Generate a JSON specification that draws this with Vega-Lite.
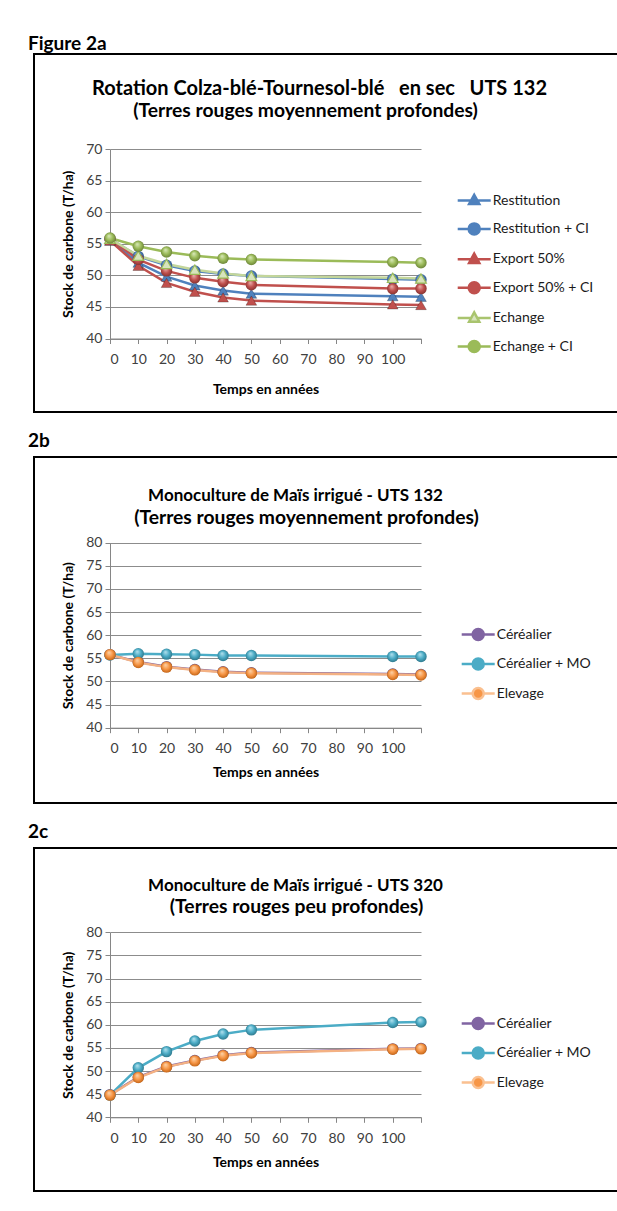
{
  "$schema": "https://vega.github.io/schema/vega-lite/v6.json",
  "background": "white",
  "padding": {"left": 27, "top": 34, "right": -12, "bottom": 8},
  "spacing": 18,
  "config": {
    "font": "Lato",
    "view": {"stroke": "#000", "strokeWidth": 2},
    "axis": {"labelFont": "Lato", "labelFontSize": 14, "labelColor": "#404040", "titleFont": "Lato", "titleFontWeight": "bold", "titleFontSize": 14, "titleColor": "#000", "domainColor": "#868686", "tickColor": "#868686", "gridColor": "#8c8c8c", "gridWidth": 1, "domainWidth": 1, "tickSize": 5},
    "title": {"font": "Lato", "fontSize": 19, "fontWeight": "bold", "anchor": "start", "color": "#000", "dx": -6},
    "legend": {"labelFont": "Lato", "labelFontSize": 14, "labelColor": "#1a1a1a"}
  },
  "resolve": {
    "scale": {"color": "independent", "fill": "independent", "stroke": "independent", "shape": "independent"},
    "legend": {"color": "independent", "fill": "independent", "stroke": "independent", "shape": "independent"}
  },
  "datasets": {
    "p2a": [
      {"t": 0, "stock": 55.5, "serie": "Restitution"},
      {"t": 10, "stock": 52.0, "serie": "Restitution"},
      {"t": 20, "stock": 49.8, "serie": "Restitution"},
      {"t": 30, "stock": 48.4, "serie": "Restitution"},
      {"t": 40, "stock": 47.6, "serie": "Restitution"},
      {"t": 50, "stock": 47.1, "serie": "Restitution"},
      {"t": 100, "stock": 46.7, "serie": "Restitution"},
      {"t": 110, "stock": 46.6, "serie": "Restitution"},
      {"t": 0, "stock": 55.8, "serie": "Restitution + CI"},
      {"t": 10, "stock": 53.0, "serie": "Restitution + CI"},
      {"t": 20, "stock": 51.6, "serie": "Restitution + CI"},
      {"t": 30, "stock": 50.7, "serie": "Restitution + CI"},
      {"t": 40, "stock": 50.2, "serie": "Restitution + CI"},
      {"t": 50, "stock": 49.9, "serie": "Restitution + CI"},
      {"t": 100, "stock": 49.4, "serie": "Restitution + CI"},
      {"t": 110, "stock": 49.3, "serie": "Restitution + CI"},
      {"t": 0, "stock": 55.5, "serie": "Export 50%"},
      {"t": 10, "stock": 51.5, "serie": "Export 50%"},
      {"t": 20, "stock": 48.8, "serie": "Export 50%"},
      {"t": 30, "stock": 47.4, "serie": "Export 50%"},
      {"t": 40, "stock": 46.5, "serie": "Export 50%"},
      {"t": 50, "stock": 46.0, "serie": "Export 50%"},
      {"t": 100, "stock": 45.4, "serie": "Export 50%"},
      {"t": 110, "stock": 45.3, "serie": "Export 50%"},
      {"t": 0, "stock": 55.8, "serie": "Export 50% + CI"},
      {"t": 10, "stock": 52.5, "serie": "Export 50% + CI"},
      {"t": 20, "stock": 50.7, "serie": "Export 50% + CI"},
      {"t": 30, "stock": 49.6, "serie": "Export 50% + CI"},
      {"t": 40, "stock": 49.0, "serie": "Export 50% + CI"},
      {"t": 50, "stock": 48.5, "serie": "Export 50% + CI"},
      {"t": 100, "stock": 47.9, "serie": "Export 50% + CI"},
      {"t": 110, "stock": 47.9, "serie": "Export 50% + CI"},
      {"t": 0, "stock": 55.8, "serie": "Echange"},
      {"t": 10, "stock": 53.1, "serie": "Echange"},
      {"t": 20, "stock": 51.8, "serie": "Echange"},
      {"t": 30, "stock": 50.9, "serie": "Echange"},
      {"t": 40, "stock": 50.3, "serie": "Echange"},
      {"t": 50, "stock": 49.9, "serie": "Echange"},
      {"t": 100, "stock": 49.6, "serie": "Echange"},
      {"t": 110, "stock": 49.5, "serie": "Echange"},
      {"t": 0, "stock": 55.9, "serie": "Echange + CI"},
      {"t": 10, "stock": 54.6, "serie": "Echange + CI"},
      {"t": 20, "stock": 53.7, "serie": "Echange + CI"},
      {"t": 30, "stock": 53.1, "serie": "Echange + CI"},
      {"t": 40, "stock": 52.7, "serie": "Echange + CI"},
      {"t": 50, "stock": 52.5, "serie": "Echange + CI"},
      {"t": 100, "stock": 52.1, "serie": "Echange + CI"},
      {"t": 110, "stock": 52.0, "serie": "Echange + CI"}
    ],
    "p2b": [
      {"t": 0, "stock": 55.8, "serie": "Céréalier"},
      {"t": 10, "stock": 54.2, "serie": "Céréalier"},
      {"t": 20, "stock": 53.2, "serie": "Céréalier"},
      {"t": 30, "stock": 52.6, "serie": "Céréalier"},
      {"t": 40, "stock": 52.1, "serie": "Céréalier"},
      {"t": 50, "stock": 51.9, "serie": "Céréalier"},
      {"t": 100, "stock": 51.6, "serie": "Céréalier"},
      {"t": 110, "stock": 51.5, "serie": "Céréalier"},
      {"t": 0, "stock": 55.7, "serie": "Céréalier + MO"},
      {"t": 10, "stock": 56.0, "serie": "Céréalier + MO"},
      {"t": 20, "stock": 55.9, "serie": "Céréalier + MO"},
      {"t": 30, "stock": 55.8, "serie": "Céréalier + MO"},
      {"t": 40, "stock": 55.6, "serie": "Céréalier + MO"},
      {"t": 50, "stock": 55.6, "serie": "Céréalier + MO"},
      {"t": 100, "stock": 55.4, "serie": "Céréalier + MO"},
      {"t": 110, "stock": 55.4, "serie": "Céréalier + MO"},
      {"t": 0, "stock": 55.8, "serie": "Elevage"},
      {"t": 10, "stock": 54.1, "serie": "Elevage"},
      {"t": 20, "stock": 53.1, "serie": "Elevage"},
      {"t": 30, "stock": 52.5, "serie": "Elevage"},
      {"t": 40, "stock": 52.0, "serie": "Elevage"},
      {"t": 50, "stock": 51.8, "serie": "Elevage"},
      {"t": 100, "stock": 51.5, "serie": "Elevage"},
      {"t": 110, "stock": 51.4, "serie": "Elevage"}
    ],
    "p2c": [
      {"t": 0, "stock": 44.9, "serie": "Céréalier"},
      {"t": 10, "stock": 48.7, "serie": "Céréalier"},
      {"t": 20, "stock": 51.0, "serie": "Céréalier"},
      {"t": 30, "stock": 52.3, "serie": "Céréalier"},
      {"t": 40, "stock": 53.4, "serie": "Céréalier"},
      {"t": 50, "stock": 54.0, "serie": "Céréalier"},
      {"t": 100, "stock": 54.8, "serie": "Céréalier"},
      {"t": 110, "stock": 54.9, "serie": "Céréalier"},
      {"t": 0, "stock": 44.8, "serie": "Céréalier + MO"},
      {"t": 10, "stock": 50.7, "serie": "Céréalier + MO"},
      {"t": 20, "stock": 54.2, "serie": "Céréalier + MO"},
      {"t": 30, "stock": 56.5, "serie": "Céréalier + MO"},
      {"t": 40, "stock": 58.0, "serie": "Céréalier + MO"},
      {"t": 50, "stock": 58.9, "serie": "Céréalier + MO"},
      {"t": 100, "stock": 60.5, "serie": "Céréalier + MO"},
      {"t": 110, "stock": 60.6, "serie": "Céréalier + MO"},
      {"t": 0, "stock": 44.8, "serie": "Elevage"},
      {"t": 10, "stock": 48.6, "serie": "Elevage"},
      {"t": 20, "stock": 50.9, "serie": "Elevage"},
      {"t": 30, "stock": 52.2, "serie": "Elevage"},
      {"t": 40, "stock": 53.3, "serie": "Elevage"},
      {"t": 50, "stock": 53.9, "serie": "Elevage"},
      {"t": 100, "stock": 54.7, "serie": "Elevage"},
      {"t": 110, "stock": 54.8, "serie": "Elevage"}
    ]
  },
  "vconcat": [
    {
      "width": 595,
      "height": 358,
      "title": {"text": "Figure 2a", "offset": 0},
      "data": {"name": "p2a"},
      "encoding": {
        "x": {"field": "t", "type": "quantitative", "scale": {"domain": [0, 110], "range": [76, 387], "nice": false, "zero": false},
          "axis": {"orient": "bottom", "offset": -73.5, "values": [0, 10, 20, 30, 40, 50, 60, 70, 80, 90, 100, 110], "labelExpr": "datum.value > 100 ? '' : datum.label", "grid": false, "title": "Temps en années", "labelPadding": 9, "titlePadding": 16}},
        "y": {"field": "stock", "type": "quantitative", "scale": {"domain": [40, 70], "range": [284.5, 95], "nice": false, "zero": false},
          "axis": {"orient": "left", "offset": -76, "values": [40, 45, 50, 55, 60, 65, 70], "grid": true, "title": "Stock de carbone (T/ha)", "labelPadding": 3, "titlePadding": 10}}
      },
      "layer": [
        {
          "mark": {"type": "line", "strokeWidth": 2.5},
          "encoding": {
            "color": {"field": "serie", "type": "nominal", "legend": null,
              "scale": {"domain": ["Restitution", "Restitution + CI", "Export 50%", "Export 50% + CI", "Echange", "Echange + CI"], "range": ["#4F81BD", "#4F81BD", "#C0504D", "#C0504D", "#C3D69B", "#9BBB59"]}}
          }
        },
        {
          "transform": [{"filter": {"field": "serie", "oneOf": ["Restitution", "Export 50%"]}}],
          "mark": {"type": "point", "shape": "triangle-up", "filled": true, "opacity": 1, "stroke": "rgba(0,0,0,0.3)", "strokeWidth": 0.8, "size": 115},
          "encoding": {
            "x": {"field": "t", "type": "quantitative", "scale": {"domain": [0, 110], "range": [76, 387], "nice": false, "zero": false},
              "axis": {"orient": "top", "labels": false, "ticks": false, "domain": false, "grid": false,
                "title": "Rotation Colza-blé-Tournesol-blé\u00a0\u00a0\u00a0en sec\u00a0\u00a0\u00a0UTS 132",
                "titleX": 285, "titleY": 40, "titleAlign": "center", "titleBaseline": "alphabetic", "titleFontSize": 20, "titleAngle": 0}},
            "y": {"field": "stock", "type": "quantitative", "scale": {"domain": [40, 70], "range": [284.5, 95], "nice": false, "zero": false},
              "axis": {"orient": "right", "offset": -595, "labels": false, "ticks": false, "domain": false, "grid": false,
                "title": "(Terres rouges moyennement profondes)",
                "titleX": 271, "titleY": 62, "titleAlign": "center", "titleBaseline": "alphabetic", "titleFontSize": 19.3, "titleAngle": 0}},
            "color": {"field": "serie", "type": "nominal", "legend": null,
              "scale": {"domain": ["Restitution", "Export 50%"], "range": ["#4F81BD", "#C0504D"]}}
          }
        },
        {
          "transform": [{"filter": {"field": "serie", "equal": "Restitution + CI"}}],
          "mark": {"type": "point", "shape": "circle", "filled": true, "opacity": 1, "size": 130,
            "fill": {"gradient": "radial", "x1": 0.4, "y1": 0.3, "r1": 0, "x2": 0.5, "y2": 0.5, "r2": 0.6, "stops": [{"offset": 0, "color": "#BBD0EA"}, {"offset": 0.5, "color": "#4F81BD"}, {"offset": 1, "color": "#2C4D75"}]}},
          "encoding": {
            "x": {"field": "t", "type": "quantitative", "scale": {"domain": [0, 110], "range": [76, 387], "nice": false, "zero": false}, "axis": null},
            "y": {"field": "stock", "type": "quantitative", "scale": {"domain": [40, 70], "range": [284.5, 95], "nice": false, "zero": false}, "axis": null}
          }
        },
        {
          "transform": [{"filter": {"field": "serie", "equal": "Export 50% + CI"}}],
          "mark": {"type": "point", "shape": "circle", "filled": true, "opacity": 1, "size": 130,
            "fill": {"gradient": "radial", "x1": 0.4, "y1": 0.3, "r1": 0, "x2": 0.5, "y2": 0.5, "r2": 0.6, "stops": [{"offset": 0, "color": "#EBB3B1"}, {"offset": 0.5, "color": "#C0504D"}, {"offset": 1, "color": "#772C2A"}]}},
          "encoding": {
            "x": {"field": "t", "type": "quantitative", "scale": {"domain": [0, 110], "range": [76, 387], "nice": false, "zero": false}, "axis": null},
            "y": {"field": "stock", "type": "quantitative", "scale": {"domain": [40, 70], "range": [284.5, 95], "nice": false, "zero": false}, "axis": null}
          }
        },
        {
          "transform": [{"filter": {"field": "serie", "equal": "Echange"}}],
          "mark": {"type": "point", "shape": "triangle-up", "filled": true, "opacity": 1, "fill": "#D7E4BD", "stroke": "#9BBB59", "strokeWidth": 1.2, "size": 115},
          "encoding": {
            "x": {"field": "t", "type": "quantitative", "scale": {"domain": [0, 110], "range": [76, 387], "nice": false, "zero": false}, "axis": null},
            "y": {"field": "stock", "type": "quantitative", "scale": {"domain": [40, 70], "range": [284.5, 95], "nice": false, "zero": false}, "axis": null}
          }
        },
        {
          "transform": [{"filter": {"field": "serie", "equal": "Echange + CI"}}],
          "mark": {"type": "point", "shape": "circle", "filled": true, "opacity": 1, "size": 130,
            "fill": {"gradient": "radial", "x1": 0.4, "y1": 0.3, "r1": 0, "x2": 0.5, "y2": 0.5, "r2": 0.6, "stops": [{"offset": 0, "color": "#DCEBBE"}, {"offset": 0.5, "color": "#9BBB59"}, {"offset": 1, "color": "#5F7530"}]}},
          "encoding": {
            "x": {"field": "t", "type": "quantitative", "scale": {"domain": [0, 110], "range": [76, 387], "nice": false, "zero": false}, "axis": null},
            "y": {"field": "stock", "type": "quantitative", "scale": {"domain": [40, 70], "range": [284.5, 95], "nice": false, "zero": false}, "axis": null}
          }
        },
        {
          "mark": {"type": "point", "size": 0, "strokeWidth": 2.5},
          "encoding": {
            "x": {"field": "t", "type": "quantitative", "scale": {"domain": [0, 110], "range": [76, 387], "nice": false, "zero": false}, "axis": null},
            "y": {"field": "stock", "type": "quantitative", "scale": {"domain": [40, 70], "range": [284.5, 95], "nice": false, "zero": false}, "axis": null},
            "fill": {"field": "serie", "type": "nominal",
              "scale": {"domain": ["Restitution", "Restitution + CI", "Export 50%", "Export 50% + CI", "Echange", "Echange + CI"], "range": ["#4F81BD", "#4F81BD", "#C0504D", "#C0504D", "#D7E4BD", "#9BBB59"]},
              "legend": {"orient": "none", "legendX": 432.7, "legendY": 139, "title": null, "symbolSize": 144, "labelOffset": 11, "rowPadding": 7.4, "padding": 0, "symbolStrokeWidth": 2.5, "symbolOpacity": 1}},
            "stroke": {"field": "serie", "type": "nominal",
              "scale": {"domain": ["Restitution", "Restitution + CI", "Export 50%", "Export 50% + CI", "Echange", "Echange + CI"], "range": ["#4F81BD", "#4F81BD", "#C0504D", "#C0504D", "#A9C46E", "#9BBB59"]},
              "legend": {"orient": "none", "legendX": 432.7, "legendY": 139, "title": null, "symbolSize": 144, "labelOffset": 11, "rowPadding": 7.4, "padding": 0, "symbolStrokeWidth": 2.5, "symbolOpacity": 1}},
            "shape": {"field": "serie", "type": "nominal",
              "scale": {"domain": ["Restitution", "Restitution + CI", "Export 50%", "Export 50% + CI", "Echange", "Echange + CI"],
                "range": ["M-2.75,0H-0.55M0.55,0H2.75M0,-0.95L0.85,0.6L-0.85,0.6Z", "M-2.75,0H-0.92M0.92,0H2.75M-0.92,0A0.92,0.92 0 1,0 0.92,0A0.92,0.92 0 1,0 -0.92,0Z", "M-2.75,0H-0.55M0.55,0H2.75M0,-0.95L0.85,0.6L-0.85,0.6Z", "M-2.75,0H-0.92M0.92,0H2.75M-0.92,0A0.92,0.92 0 1,0 0.92,0A0.92,0.92 0 1,0 -0.92,0Z", "M-2.75,0H-0.55M0.55,0H2.75M0,-0.95L0.85,0.6L-0.85,0.6Z", "M-2.75,0H-0.92M0.92,0H2.75M-0.92,0A0.92,0.92 0 1,0 0.92,0A0.92,0.92 0 1,0 -0.92,0Z"]},
              "legend": {"orient": "none", "legendX": 432.7, "legendY": 139, "title": null, "symbolSize": 144, "labelOffset": 11, "rowPadding": 7.4, "padding": 0, "symbolStrokeWidth": 2.5, "symbolOpacity": 1}}
          }
        }
      ],
      "resolve": {"scale": {"color": "independent"}, "axis": {"x": "independent", "y": "independent"}}
    },
    {
      "width": 595,
      "height": 346,
      "title": {"text": "2b", "offset": 6},
      "data": {"name": "p2b"},
      "encoding": {
        "x": {"field": "t", "type": "quantitative", "scale": {"domain": [0, 110], "range": [76, 387], "nice": false, "zero": false},
          "axis": {"orient": "bottom", "offset": -75.3, "values": [0, 10, 20, 30, 40, 50, 60, 70, 80, 90, 100, 110], "labelExpr": "datum.value > 100 ? '' : datum.label", "grid": false, "title": "Temps en années", "labelPadding": 9, "titlePadding": 10}},
        "y": {"field": "stock", "type": "quantitative", "scale": {"domain": [40, 80], "range": [270.7, 85.7], "nice": false, "zero": false},
          "axis": {"orient": "left", "offset": -76, "values": [40, 45, 50, 55, 60, 65, 70, 75, 80], "grid": true, "title": "Stock de carbone (T/ha)", "labelPadding": 3, "titlePadding": 10}}
      },
      "layer": [
        {
          "mark": {"type": "line", "strokeWidth": 2.5},
          "encoding": {
            "color": {"field": "serie", "type": "nominal", "legend": null,
              "scale": {"domain": ["Céréalier", "Céréalier + MO", "Elevage"], "range": ["#8064A2", "#4BACC6", "#F4B183"]}}
          }
        },
        {
          "transform": [{"filter": {"field": "serie", "equal": "Céréalier"}}],
          "mark": {"type": "point", "shape": "circle", "filled": true, "opacity": 1, "size": 130,
            "fill": {"gradient": "radial", "x1": 0.4, "y1": 0.3, "r1": 0, "x2": 0.5, "y2": 0.5, "r2": 0.6, "stops": [{"offset": 0, "color": "#CDC0DF"}, {"offset": 0.5, "color": "#8064A2"}, {"offset": 1, "color": "#4D3B62"}]}},
          "encoding": {
            "x": {"field": "t", "type": "quantitative", "scale": {"domain": [0, 110], "range": [76, 387], "nice": false, "zero": false},
              "axis": {"orient": "top", "labels": false, "ticks": false, "domain": false, "grid": false,
                "title": "Monoculture de Maïs irrigué - UTS 132",
                "titleX": 261, "titleY": 43, "titleAlign": "center", "titleBaseline": "alphabetic", "titleFontSize": 17, "titleAngle": 0}},
            "y": {"field": "stock", "type": "quantitative", "scale": {"domain": [40, 80], "range": [270.7, 85.7], "nice": false, "zero": false},
              "axis": {"orient": "right", "offset": -595, "labels": false, "ticks": false, "domain": false, "grid": false,
                "title": "(Terres rouges moyennement profondes)",
                "titleX": 272, "titleY": 66.5, "titleAlign": "center", "titleBaseline": "alphabetic", "titleFontSize": 19.3, "titleAngle": 0}}
          }
        },
        {
          "transform": [{"filter": {"field": "serie", "equal": "Céréalier + MO"}}],
          "mark": {"type": "point", "shape": "circle", "filled": true, "opacity": 1, "size": 130,
            "fill": {"gradient": "radial", "x1": 0.4, "y1": 0.3, "r1": 0, "x2": 0.5, "y2": 0.5, "r2": 0.6, "stops": [{"offset": 0, "color": "#B7E3EF"}, {"offset": 0.5, "color": "#4BACC6"}, {"offset": 1, "color": "#276A7C"}]}},
          "encoding": {
            "x": {"field": "t", "type": "quantitative", "scale": {"domain": [0, 110], "range": [76, 387], "nice": false, "zero": false}, "axis": null},
            "y": {"field": "stock", "type": "quantitative", "scale": {"domain": [40, 80], "range": [270.7, 85.7], "nice": false, "zero": false}, "axis": null}
          }
        },
        {
          "transform": [{"filter": {"field": "serie", "equal": "Elevage"}}],
          "mark": {"type": "point", "shape": "circle", "filled": true, "opacity": 1, "size": 130,
            "fill": {"gradient": "radial", "x1": 0.4, "y1": 0.3, "r1": 0, "x2": 0.5, "y2": 0.5, "r2": 0.6, "stops": [{"offset": 0, "color": "#FCD5AD"}, {"offset": 0.5, "color": "#F79646"}, {"offset": 1, "color": "#B65708"}]}},
          "encoding": {
            "x": {"field": "t", "type": "quantitative", "scale": {"domain": [0, 110], "range": [76, 387], "nice": false, "zero": false}, "axis": null},
            "y": {"field": "stock", "type": "quantitative", "scale": {"domain": [40, 80], "range": [270.7, 85.7], "nice": false, "zero": false}, "axis": null}
          }
        },
        {
          "mark": {"type": "point", "size": 0, "strokeWidth": 2.5},
          "encoding": {
            "x": {"field": "t", "type": "quantitative", "scale": {"domain": [0, 110], "range": [76, 387], "nice": false, "zero": false}, "axis": null},
            "y": {"field": "stock", "type": "quantitative", "scale": {"domain": [40, 80], "range": [270.7, 85.7], "nice": false, "zero": false}, "axis": null},
            "fill": {"field": "serie", "type": "nominal",
              "scale": {"domain": ["Céréalier", "Céréalier + MO", "Elevage"], "range": ["#8064A2", "#4BACC6", "#F79646"]},
              "legend": {"orient": "none", "legendX": 436.7, "legendY": 170, "title": null, "symbolSize": 144, "labelOffset": 11, "rowPadding": 6.5, "padding": 0, "symbolStrokeWidth": 2.5, "symbolOpacity": 1,
                "symbolType": "M-2.75,0H-0.92M0.92,0H2.75M-0.92,0A0.92,0.92 0 1,0 0.92,0A0.92,0.92 0 1,0 -0.92,0Z"}},
            "stroke": {"field": "serie", "type": "nominal",
              "scale": {"domain": ["Céréalier", "Céréalier + MO", "Elevage"], "range": ["#8064A2", "#4BACC6", "#FAC090"]},
              "legend": {"orient": "none", "legendX": 436.7, "legendY": 170, "title": null, "symbolSize": 144, "labelOffset": 11, "rowPadding": 6.5, "padding": 0, "symbolStrokeWidth": 2.5, "symbolOpacity": 1,
                "symbolType": "M-2.75,0H-0.92M0.92,0H2.75M-0.92,0A0.92,0.92 0 1,0 0.92,0A0.92,0.92 0 1,0 -0.92,0Z"}}
          }
        }
      ],
      "resolve": {"scale": {"color": "independent"}, "axis": {"x": "independent", "y": "independent"}}
    },
    {
      "width": 595,
      "height": 343,
      "title": {"text": "2c", "offset": 6},
      "data": {"name": "p2c"},
      "encoding": {
        "x": {"field": "t", "type": "quantitative", "scale": {"domain": [0, 110], "range": [76, 387], "nice": false, "zero": false},
          "axis": {"orient": "bottom", "offset": -73.7, "values": [0, 10, 20, 30, 40, 50, 60, 70, 80, 90, 100, 110], "labelExpr": "datum.value > 100 ? '' : datum.label", "grid": false, "title": "Temps en années", "labelPadding": 9, "titlePadding": 10}},
        "y": {"field": "stock", "type": "quantitative", "scale": {"domain": [40, 80], "range": [269.3, 84.3], "nice": false, "zero": false},
          "axis": {"orient": "left", "offset": -76, "values": [40, 45, 50, 55, 60, 65, 70, 75, 80], "grid": true, "title": "Stock de carbone (T/ha)", "labelPadding": 3, "titlePadding": 10}}
      },
      "layer": [
        {
          "mark": {"type": "line", "strokeWidth": 2.5},
          "encoding": {
            "color": {"field": "serie", "type": "nominal", "legend": null,
              "scale": {"domain": ["Céréalier", "Céréalier + MO", "Elevage"], "range": ["#8064A2", "#4BACC6", "#F4B183"]}}
          }
        },
        {
          "transform": [{"filter": {"field": "serie", "equal": "Céréalier"}}],
          "mark": {"type": "point", "shape": "circle", "filled": true, "opacity": 1, "size": 130,
            "fill": {"gradient": "radial", "x1": 0.4, "y1": 0.3, "r1": 0, "x2": 0.5, "y2": 0.5, "r2": 0.6, "stops": [{"offset": 0, "color": "#CDC0DF"}, {"offset": 0.5, "color": "#8064A2"}, {"offset": 1, "color": "#4D3B62"}]}},
          "encoding": {
            "x": {"field": "t", "type": "quantitative", "scale": {"domain": [0, 110], "range": [76, 387], "nice": false, "zero": false},
              "axis": {"orient": "top", "labels": false, "ticks": false, "domain": false, "grid": false,
                "title": "Monoculture de Maïs irrigué - UTS 320",
                "titleX": 261, "titleY": 42, "titleAlign": "center", "titleBaseline": "alphabetic", "titleFontSize": 17, "titleAngle": 0}},
            "y": {"field": "stock", "type": "quantitative", "scale": {"domain": [40, 80], "range": [269.3, 84.3], "nice": false, "zero": false},
              "axis": {"orient": "right", "offset": -595, "labels": false, "ticks": false, "domain": false, "grid": false,
                "title": "(Terres rouges peu profondes)",
                "titleX": 262, "titleY": 64.5, "titleAlign": "center", "titleBaseline": "alphabetic", "titleFontSize": 19.3, "titleAngle": 0}}
          }
        },
        {
          "transform": [{"filter": {"field": "serie", "equal": "Céréalier + MO"}}],
          "mark": {"type": "point", "shape": "circle", "filled": true, "opacity": 1, "size": 130,
            "fill": {"gradient": "radial", "x1": 0.4, "y1": 0.3, "r1": 0, "x2": 0.5, "y2": 0.5, "r2": 0.6, "stops": [{"offset": 0, "color": "#B7E3EF"}, {"offset": 0.5, "color": "#4BACC6"}, {"offset": 1, "color": "#276A7C"}]}},
          "encoding": {
            "x": {"field": "t", "type": "quantitative", "scale": {"domain": [0, 110], "range": [76, 387], "nice": false, "zero": false}, "axis": null},
            "y": {"field": "stock", "type": "quantitative", "scale": {"domain": [40, 80], "range": [269.3, 84.3], "nice": false, "zero": false}, "axis": null}
          }
        },
        {
          "transform": [{"filter": {"field": "serie", "equal": "Elevage"}}],
          "mark": {"type": "point", "shape": "circle", "filled": true, "opacity": 1, "size": 130,
            "fill": {"gradient": "radial", "x1": 0.4, "y1": 0.3, "r1": 0, "x2": 0.5, "y2": 0.5, "r2": 0.6, "stops": [{"offset": 0, "color": "#FCD5AD"}, {"offset": 0.5, "color": "#F79646"}, {"offset": 1, "color": "#B65708"}]}},
          "encoding": {
            "x": {"field": "t", "type": "quantitative", "scale": {"domain": [0, 110], "range": [76, 387], "nice": false, "zero": false}, "axis": null},
            "y": {"field": "stock", "type": "quantitative", "scale": {"domain": [40, 80], "range": [269.3, 84.3], "nice": false, "zero": false}, "axis": null}
          }
        },
        {
          "mark": {"type": "point", "size": 0, "strokeWidth": 2.5},
          "encoding": {
            "x": {"field": "t", "type": "quantitative", "scale": {"domain": [0, 110], "range": [76, 387], "nice": false, "zero": false}, "axis": null},
            "y": {"field": "stock", "type": "quantitative", "scale": {"domain": [40, 80], "range": [269.3, 84.3], "nice": false, "zero": false}, "axis": null},
            "fill": {"field": "serie", "type": "nominal",
              "scale": {"domain": ["Céréalier", "Céréalier + MO", "Elevage"], "range": ["#8064A2", "#4BACC6", "#F79646"]},
              "legend": {"orient": "none", "legendX": 436.7, "legendY": 168, "title": null, "symbolSize": 144, "labelOffset": 11, "rowPadding": 6.5, "padding": 0, "symbolStrokeWidth": 2.5, "symbolOpacity": 1,
                "symbolType": "M-2.75,0H-0.92M0.92,0H2.75M-0.92,0A0.92,0.92 0 1,0 0.92,0A0.92,0.92 0 1,0 -0.92,0Z"}},
            "stroke": {"field": "serie", "type": "nominal",
              "scale": {"domain": ["Céréalier", "Céréalier + MO", "Elevage"], "range": ["#8064A2", "#4BACC6", "#FAC090"]},
              "legend": {"orient": "none", "legendX": 436.7, "legendY": 168, "title": null, "symbolSize": 144, "labelOffset": 11, "rowPadding": 6.5, "padding": 0, "symbolStrokeWidth": 2.5, "symbolOpacity": 1,
                "symbolType": "M-2.75,0H-0.92M0.92,0H2.75M-0.92,0A0.92,0.92 0 1,0 0.92,0A0.92,0.92 0 1,0 -0.92,0Z"}}
          }
        }
      ],
      "resolve": {"scale": {"color": "independent"}, "axis": {"x": "independent", "y": "independent"}}
    }
  ]
}
